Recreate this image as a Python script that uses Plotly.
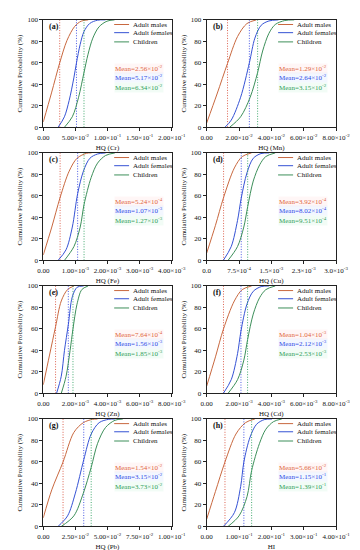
import plotly.graph_objects as go

# ---------------- data ----------------
PANEL_LETTERS = ["(a)", "(b)", "(c)", "(d)", "(e)", "(f)", "(g)", "(h)"]
X_TITLES = ["HQ (Cr)", "HQ (Mn)", "HQ (Fe)", "HQ (Cu)", "HQ (Zn)", "HQ (Cd)", "HQ (Pb)", "HI"]
SERIES = ["Adult males", "Adult females", "Children"]

X_MAX = [0.2, 0.08, 4e-3, 3e-3, 8e-3, 8e-3, 0.1, 0.4]

TICK_VALS = [
    [0, 0.05, 0.10, 0.15, 0.20],
    [0, 0.02, 0.04, 0.06, 0.08],
    [0, 1e-3, 2e-3, 3e-3, 4e-3],
    [0, 7.5e-4, 1.5e-3, 2.25e-3, 3e-3],
    [0, 2e-3, 4e-3, 6e-3, 8e-3],
    [0, 2e-3, 4e-3, 6e-3, 8e-3],
    [0, 0.025, 0.05, 0.075, 0.10],
    [0, 0.1, 0.2, 0.3, 0.4],
]
TICK_TEXT = [
    ["0.00", "5.00×10<sup>-2</sup>", "1.00×10<sup>-1</sup>", "1.50×10<sup>-1</sup>", "2.00×10<sup>-1</sup>"],
    ["0.00", "2.00×10<sup>-2</sup>", "4.00×10<sup>-2</sup>", "6.00×10<sup>-2</sup>", "8.00×10<sup>-2</sup>"],
    ["0.00", "1.00×10<sup>-3</sup>", "2.00×10<sup>-3</sup>", "3.00×10<sup>-3</sup>", "4.00×10<sup>-3</sup>"],
    ["0.0", "7.5×10<sup>-4</sup>", "1.5×10<sup>-3</sup>", "2.3×10<sup>-3</sup>", "3.0×10<sup>-3</sup>"],
    ["0.00", "2.00×10<sup>-3</sup>", "4.00×10<sup>-3</sup>", "6.00×10<sup>-3</sup>", "8.00×10<sup>-3</sup>"],
    ["0.00", "2.00×10<sup>-3</sup>", "4.00×10<sup>-3</sup>", "6.00×10<sup>-3</sup>", "8.00×10<sup>-3</sup>"],
    ["0.00", "2.50×10<sup>-2</sup>", "5.00×10<sup>-2</sup>", "7.50×10<sup>-2</sup>", "1.00×10<sup>-1</sup>"],
    ["0.00", "1.00×10<sup>-1</sup>", "2.00×10<sup>-1</sup>", "3.00×10<sup>-1</sup>", "4.00×10<sup>-1</sup>"],
]

# mean values (male, female, children) and their labels
MEANS = [
    [2.56e-2, 5.17e-2, 6.34e-2],
    [1.29e-2, 2.64e-2, 3.15e-2],
    [5.24e-4, 1.07e-3, 1.27e-3],
    [3.92e-4, 8.02e-4, 9.51e-4],
    [7.64e-4, 1.56e-3, 1.85e-3],
    [1.04e-3, 2.12e-3, 2.53e-3],
    [1.54e-2, 3.15e-2, 3.73e-2],
    [5.66e-2, 1.15e-1, 1.39e-1],
]
MEAN_TEXT = [
    ["2.56×10<sup>-2</sup>", "5.17×10<sup>-2</sup>", "6.34×10<sup>-2</sup>"],
    ["1.29×10<sup>-2</sup>", "2.64×10<sup>-2</sup>", "3.15×10<sup>-2</sup>"],
    ["5.24×10<sup>-4</sup>", "1.07×10<sup>-3</sup>", "1.27×10<sup>-3</sup>"],
    ["3.92×10<sup>-4</sup>", "8.02×10<sup>-4</sup>", "9.51×10<sup>-4</sup>"],
    ["7.64×10<sup>-4</sup>", "1.56×10<sup>-3</sup>", "1.85×10<sup>-3</sup>"],
    ["1.04×10<sup>-3</sup>", "2.12×10<sup>-3</sup>", "2.53×10<sup>-3</sup>"],
    ["1.54×10<sup>-2</sup>", "3.15×10<sup>-2</sup>", "3.73×10<sup>-2</sup>"],
    ["5.66×10<sup>-2</sup>", "1.15×10<sup>-1</sup>", "1.39×10<sup>-1</sup>"],
]

# cumulative probability curves (x, %)
CR_MALE_X = [0, 0.0128, 0.0256, 0.037, 0.049, 0.059, 0.070]
CR_MALE_Y = [5, 32, 60, 81, 94, 98.8, 100]
CR_FEMALE_X = [0.0231, 0.0329, 0.0403, 0.0476, 0.0517, 0.0574, 0.0633, 0.0722, 0.0845, 0.0967]
CR_FEMALE_Y = [0, 9.8, 25, 46, 60, 77, 89, 96.6, 99.7, 100]
CR_CHILD_X = [0.0329, 0.0452, 0.0550, 0.0634, 0.0697, 0.0771, 0.0869, 0.0992, 0.111]
CR_CHILD_Y = [0, 9.8, 28, 51, 68, 83, 93.6, 98.8, 100]

MN_MALE_X = [0, 0.0064, 0.0129, 0.0191, 0.0249, 0.0307]
MN_MALE_Y = [4, 31, 59.5, 84.5, 96.6, 100]
MN_FEMALE_X = [0.0113, 0.0152, 0.0210, 0.0264, 0.0298, 0.0337, 0.0385, 0.0444]
MN_FEMALE_Y = [0, 6.7, 28, 60, 83, 95, 99, 100]
MN_CHILD_X = [0.0142, 0.0210, 0.0269, 0.0315, 0.0346, 0.0385, 0.0424, 0.0483, 0.0541]
MN_CHILD_Y = [0, 9.8, 28, 51, 71, 87.5, 95.7, 99.4, 100]

FE_MALE_X = [0, 2.65e-4, 5.24e-4, 8.06e-4, 1.05e-3, 1.35e-3, 1.5e-3]
FE_MALE_Y = [5, 31, 58.5, 83, 95, 99.7, 100]
FE_FEMALE_X = [4.62e-4, 7.08e-4, 9.04e-4, 1.07e-3, 1.25e-3, 1.45e-3, 1.69e-3, 1.94e-3]
FE_FEMALE_Y = [0, 9.8, 31, 62, 83, 95, 99, 100]
FE_CHILD_X = [6.59e-4, 9.54e-4, 1.15e-3, 1.27e-3, 1.49e-3, 1.69e-3, 1.94e-3, 2.23e-3]
FE_CHILD_Y = [0, 12.8, 31, 52, 77, 90.5, 97.6, 100]

CU_MALE_X = [0, 2.04e-4, 3.92e-4, 6.42e-4, 8.25e-4, 1.04e-3]
CU_MALE_Y = [6.7, 32.6, 58.5, 86, 96.6, 100]
CU_FEMALE_X = [3.87e-4, 5.69e-4, 7.15e-4, 8.02e-4, 9.34e-4, 1.08e-3, 1.26e-3, 1.45e-3]
CU_FEMALE_Y = [0, 12.8, 37, 58, 81.4, 95, 99.4, 100]
CU_CHILD_X = [4.96e-4, 7.15e-4, 8.61e-4, 9.51e-4, 1.08e-3, 1.23e-3, 1.37e-3, 1.59e-3]
CU_CHILD_Y = [0, 12.8, 31, 50, 73.8, 89, 96.6, 100]

ZN_MALE_X = [0, 3.9e-4, 7.64e-4, 1.12e-3, 1.51e-3, 1.91e-3]
ZN_MALE_Y = [8, 35.7, 62, 86, 96.6, 100]
ZN_FEMALE_X = [8.26e-4, 1.12e-3, 1.32e-3, 1.56e-3, 1.81e-3, 2.11e-3, 2.51e-3]
ZN_FEMALE_Y = [0, 15.9, 40, 64, 90, 98.8, 100]
ZN_CHILD_X = [1.12e-3, 1.42e-3, 1.67e-3, 1.85e-3, 2.10e-3, 2.40e-3, 2.79e-3]
ZN_CHILD_Y = [0, 15.9, 40, 60, 83, 96.6, 100]

CD_MALE_X = [0, 5.45e-4, 1.04e-3, 1.71e-3, 2.20e-3, 2.78e-3]
CD_MALE_Y = [6.7, 34, 60, 86, 96.6, 100]
CD_FEMALE_X = [1.03e-3, 1.52e-3, 1.91e-3, 2.12e-3, 2.49e-3, 2.88e-3, 3.37e-3, 3.85e-3]
CD_FEMALE_Y = [0, 12.8, 37, 58, 83, 95, 99.4, 100]
CD_CHILD_X = [1.32e-3, 1.91e-3, 2.30e-3, 2.53e-3, 2.88e-3, 3.27e-3, 3.66e-3, 4.24e-3]
CD_CHILD_Y = [0, 12.8, 31, 50, 73.8, 89, 96.6, 100]

PB_MALE_X = [0, 0.0066, 0.0154, 0.0238, 0.0312, 0.0385, 0.0422]
PB_MALE_Y = [8, 34, 60, 87.5, 96.6, 99.7, 100]
PB_FEMALE_X = [0.0115, 0.0189, 0.0250, 0.0315, 0.0373, 0.0435, 0.0509, 0.0558]
PB_FEMALE_Y = [0, 9.8, 31, 62, 86, 96.6, 99.7, 100]
PB_CHILD_X = [0.0140, 0.0238, 0.0312, 0.0373, 0.0422, 0.0484, 0.0558, 0.0619]
PB_CHILD_Y = [0, 9.8, 31, 55, 77, 92, 98.8, 100]

HI_MALE_X = [0, 0.0272, 0.0566, 0.0905, 0.120, 0.149]
HI_MALE_Y = [6.7, 32.6, 60, 86, 96.6, 100]
HI_FEMALE_X = [0.0516, 0.0856, 0.105, 0.115, 0.134, 0.154, 0.178, 0.202]
HI_FEMALE_Y = [0, 12.8, 37, 60, 83, 95, 99.4, 100]
HI_CHILD_X = [0.0662, 0.100, 0.125, 0.139, 0.163, 0.183, 0.207, 0.232]
HI_CHILD_Y = [0, 9.8, 28, 52, 77, 90.5, 97.6, 100]

CURVES = [
    [(CR_MALE_X, CR_MALE_Y), (CR_FEMALE_X, CR_FEMALE_Y), (CR_CHILD_X, CR_CHILD_Y)],
    [(MN_MALE_X, MN_MALE_Y), (MN_FEMALE_X, MN_FEMALE_Y), (MN_CHILD_X, MN_CHILD_Y)],
    [(FE_MALE_X, FE_MALE_Y), (FE_FEMALE_X, FE_FEMALE_Y), (FE_CHILD_X, FE_CHILD_Y)],
    [(CU_MALE_X, CU_MALE_Y), (CU_FEMALE_X, CU_FEMALE_Y), (CU_CHILD_X, CU_CHILD_Y)],
    [(ZN_MALE_X, ZN_MALE_Y), (ZN_FEMALE_X, ZN_FEMALE_Y), (ZN_CHILD_X, ZN_CHILD_Y)],
    [(CD_MALE_X, CD_MALE_Y), (CD_FEMALE_X, CD_FEMALE_Y), (CD_CHILD_X, CD_CHILD_Y)],
    [(PB_MALE_X, PB_MALE_Y), (PB_FEMALE_X, PB_FEMALE_Y), (PB_CHILD_X, PB_CHILD_Y)],
    [(HI_MALE_X, HI_MALE_Y), (HI_FEMALE_X, HI_FEMALE_Y), (HI_CHILD_X, HI_CHILD_Y)],
]

# ---------------- styling ----------------
W, H = 360, 550
FONT = "Liberation Serif, Times New Roman, serif"
LINE_COLORS = ["#c8683f", "#3552d4", "#3d8f5a"]
DOT_COLORS = ["#d8503c", "#3848e0", "#2fa060"]
TEXT_COLORS = ["#e0643c", "#2f4ae6", "#2f9e58"]
TEXT_BG = ["rgba(255,228,228,0.35)", "rgba(220,232,255,0.35)", "rgba(218,245,230,0.35)"]

COL_X = [(31, 167), (204, 341)]
ROW_TOP = [8, 143, 278, 413]
ROW_H = 109

fig = go.Figure()
annotations = []
shapes = []

for i in range(8):
    r, c = divmod(i, 2)
    n = "" if i == 0 else str(i + 1)
    xa, ya = "x" + n, "y" + n
    x0, x1 = COL_X[c]
    top = ROW_TOP[r]
    xdom = [x0 / W, x1 / W]
    ydom = [1 - (top + ROW_H) / H, 1 - top / H]

    for k in range(3):
        cx, cy = CURVES[i][k]
        fig.add_trace(go.Scatter(
            x=cx, y=cy, mode="lines", name=SERIES[k], showlegend=False,
            line=dict(color=LINE_COLORS[k], width=1, shape="spline", smoothing=0.9),
            xaxis=xa, yaxis=ya, hoverinfo="skip"))
        # dotted vertical line at the mean
        fig.add_trace(go.Scatter(
            x=[MEANS[i][k], MEANS[i][k]], y=[0, 100], mode="lines", showlegend=False,
            line=dict(color=DOT_COLORS[k], width=0.9, dash="1px,1.6px"),
            xaxis=xa, yaxis=ya, hoverinfo="skip"))

    axis_common = dict(showline=True, linecolor="#222", linewidth=1, mirror=True,
                       ticks="outside", ticklen=3, tickwidth=1, tickcolor="#222",
                       showgrid=False, zeroline=False,
                       tickfont=dict(family=FONT, size=7, color="#111"))
    fig.layout["xaxis" + n] = dict(
        domain=xdom, anchor=ya, range=[0, X_MAX[i]],
        tickmode="array", tickvals=TICK_VALS[i], ticktext=TICK_TEXT[i],
        title=dict(text=X_TITLES[i], font=dict(family=FONT, size=7, color="#111"), standoff=4),
        **axis_common)
    fig.layout["yaxis" + n] = dict(
        domain=ydom, anchor=xa, range=[0, 100], tickmode="array",
        tickvals=[0, 20, 40, 60, 80, 100],
        title=dict(text="Cumulative Probability (%)", font=dict(family=FONT, size=7, color="#111"), standoff=3),
        **axis_common)

    xref, yref = xa + " domain", ya + " domain"
    # panel letter
    annotations.append(dict(text="<b>" + PANEL_LETTERS[i] + "</b>", xref=xref, yref=yref,
                            x=0.03, y=0.94, xanchor="left", yanchor="middle", showarrow=False,
                            font=dict(family=FONT, size=8, color="#111")))
    # legend (manual)
    for k in range(3):
        ly = [0.957, 0.881, 0.795][k]
        shapes.append(dict(type="line", xref=xref, yref=yref, x0=0.552, x1=0.668, y0=ly, y1=ly,
                           line=dict(color=LINE_COLORS[k], width=1)))
        annotations.append(dict(text=SERIES[k], xref=xref, yref=yref, x=0.682, y=ly,
                                xanchor="left", yanchor="middle", showarrow=False,
                                font=dict(family=FONT, size=7, color="#111")))
        my = [0.55, 0.46, 0.37][k]
        annotations.append(dict(text="Mean=" + MEAN_TEXT[i][k], xref=xref, yref=yref,
                                x=0.552, y=my, xanchor="left", yanchor="middle", showarrow=False,
                                bgcolor=TEXT_BG[k], borderpad=0,
                                font=dict(family=FONT, size=7, color=TEXT_COLORS[k])))

fig.update_layout(width=W, height=H, margin=dict(l=0, r=0, t=0, b=0),
                  paper_bgcolor="white", plot_bgcolor="white",
                  annotations=annotations, shapes=shapes, showlegend=False,
                  font=dict(family=FONT, size=7, color="#111"))

fig.write_html("out.html")
